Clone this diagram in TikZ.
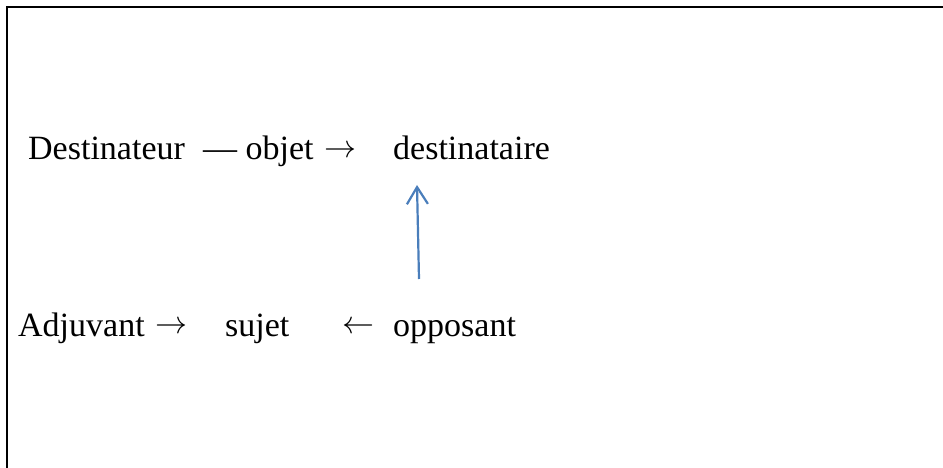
\documentclass[tikz,border=0pt]{standalone}
\usepackage{fontspec}
\usepackage{graphicx}
\setmainfont{Liberation Serif}
\usetikzlibrary{arrows.meta}
\definecolor{arrowblue}{RGB}{74,126,187}
\newcommand{\bigra}{\raisebox{2.5pt}{\resizebox{32pt}{!}{$\rightarrow$}}}
\newcommand{\bigla}{\raisebox{2.5pt}{\resizebox{32pt}{!}{$\leftarrow$}}}
\begin{document}
\begin{tikzpicture}[x=1pt,y=-1pt,
  lbl/.style={anchor=base west,inner sep=0pt,font=\fontsize{34}{40}\selectfont},
  framelines/.style={line width=1.3pt,black},
  bluearrow/.style={line width=2.2pt,arrowblue,-{Straight Barb[length=17pt,width=21pt,line width=2.2pt]}}]
\useasboundingbox (0,0) rectangle (943,468);
\draw[framelines] (7,468) -- (7,7) -- (943,7);
% top row
\node[lbl] (dest) at (28,160) {Destinateur};
\node[lbl] (obj) at (203,160) {— objet};
\node[lbl] (objarrow) at (324,160) {\bigra};
\node[lbl] (destinataire) at (393,160) {destinataire};
% bottom row
\node[lbl] (adj) at (18,336) {Adjuvant};
\node[lbl] (adjarrow) at (155,336) {\bigra};
\node[lbl] (sujet) at (225,336) {sujet};
\node[lbl] (opparrow) at (342,336) {\bigla};
\node[lbl] (opp) at (393,336) {opposant};
% blue arrow
\coordinate (aStart) at (419,279);
\coordinate (aEnd) at (417,185);
\draw[bluearrow] (aStart) -- (aEnd);
\end{tikzpicture}
\end{document}
